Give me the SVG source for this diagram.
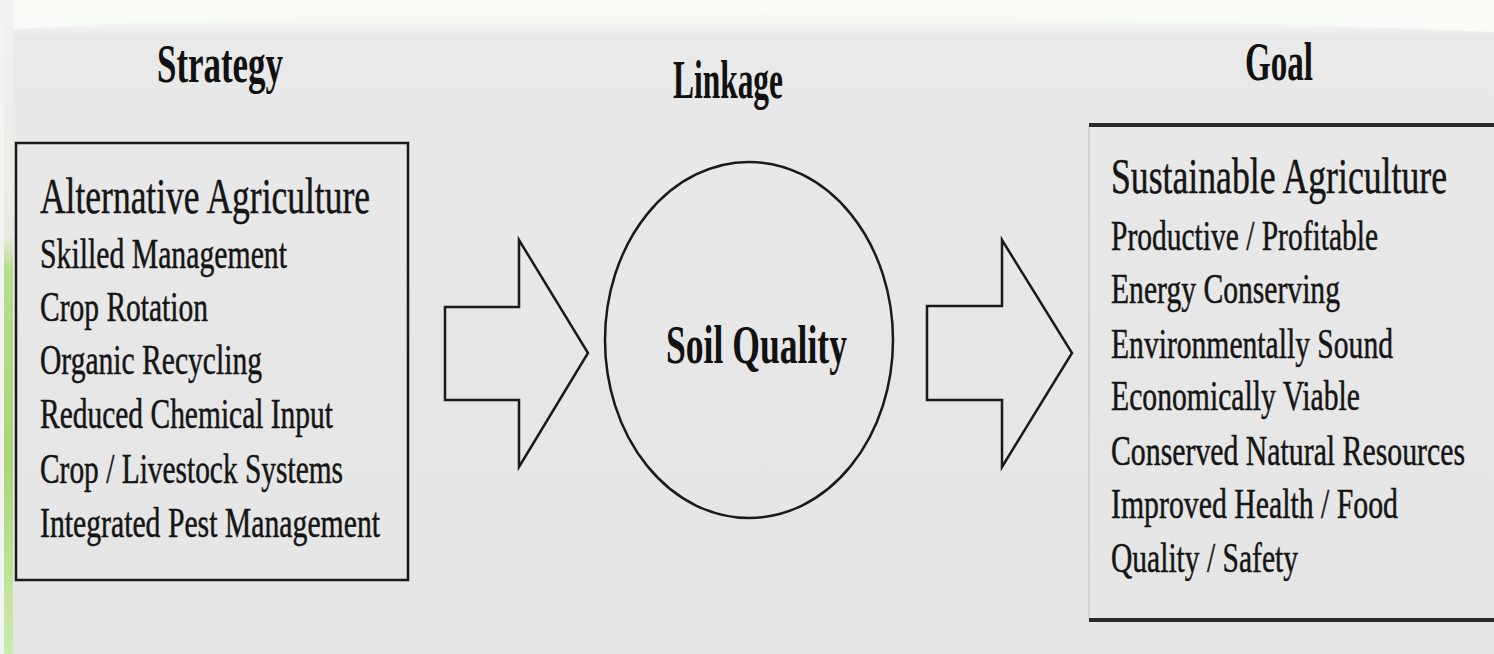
<svg xmlns="http://www.w3.org/2000/svg" width="1494" height="654" viewBox="0 0 1494 654">
  <defs>
    <linearGradient id="bg" x1="0" y1="0" x2="0" y2="1">
      <stop offset="0" stop-color="#fbfcfa"/>
      <stop offset="0.035" stop-color="#f6f8f3"/>
      <stop offset="0.055" stop-color="#e9e9e9"/>
      <stop offset="1" stop-color="#e5e5e5"/>
    </linearGradient>
    <linearGradient id="strip" x1="0" y1="0" x2="0" y2="1">
      <stop offset="0" stop-color="#f2f2f2"/>
      <stop offset="0.36" stop-color="#e8ebe4"/>
      <stop offset="0.41" stop-color="#b8de8c"/>
      <stop offset="0.7" stop-color="#a9d676"/>
      <stop offset="1" stop-color="#cdeab0"/>
    </linearGradient>
    <style>
      .title { font-family: "Liberation Serif", "Times New Roman", serif; font-weight: bold; font-size: 54px; fill: #111; }
      .head { font-family: "Liberation Serif", "Times New Roman", serif; font-size: 50px; fill: #151515; stroke: #151515; stroke-width: 0.5; }
      .item { font-family: "Liberation Serif", "Times New Roman", serif; font-size: 42px; fill: #151515; stroke: #151515; stroke-width: 0.5; }
      .shape { fill: none; stroke: #1a1a1a; stroke-width: 2.5; stroke-linejoin: miter; }
      .rule { stroke: #2a2a2a; stroke-width: 4; }
    </style>
  </defs>

  <rect x="0" y="0" width="1494" height="654" fill="url(#bg)"/>
  <path d="M0,30 Q360,8 760,12 Q1100,16 1494,32 L1494,0 L0,0 Z" fill="#f9fbf6"/>
  <rect x="0" y="0" width="4" height="654" fill="#f3f3f3"/>
  <rect x="4" y="0" width="9" height="654" fill="url(#strip)"/>

  <g id="title-strategy">
    <text class="title" x="157" y="82" textLength="126" lengthAdjust="spacingAndGlyphs">Strategy</text>
  </g>
  <g id="title-linkage">
    <text class="title" x="673" y="98" textLength="110" lengthAdjust="spacingAndGlyphs">Linkage</text>
  </g>
  <g id="title-goal">
    <text class="title" x="1245" y="80" textLength="68" lengthAdjust="spacingAndGlyphs">Goal</text>
  </g>

  <g id="node-strategy">
    <rect class="shape" x="16" y="143" width="392" height="437" stroke-width="3"/>
    <text class="head" x="40" y="213" textLength="330" lengthAdjust="spacingAndGlyphs">Alternative Agriculture</text>
    <text class="item" x="40" y="268" textLength="247" lengthAdjust="spacingAndGlyphs">Skilled Management</text>
    <text class="item" x="40" y="321" textLength="168" lengthAdjust="spacingAndGlyphs">Crop Rotation</text>
    <text class="item" x="40" y="374" textLength="222" lengthAdjust="spacingAndGlyphs">Organic Recycling</text>
    <text class="item" x="40" y="428" textLength="293" lengthAdjust="spacingAndGlyphs">Reduced Chemical Input</text>
    <text class="item" x="40" y="483" textLength="303" lengthAdjust="spacingAndGlyphs">Crop / Livestock Systems</text>
    <text class="item" x="40" y="537" textLength="340" lengthAdjust="spacingAndGlyphs">Integrated Pest Management</text>
  </g>

  <g id="node-linkage">
    <ellipse class="shape" cx="749" cy="340" rx="144" ry="178" stroke-width="2.2"/>
    <text class="title" x="666" y="363" textLength="181" lengthAdjust="spacingAndGlyphs" font-size="52">Soil Quality</text>
  </g>

  <g id="node-goal">
    <line x1="1089" y1="126" x2="1089" y2="619" stroke="#c4c4c4" stroke-width="1.2"/>
    <line class="rule" x1="1089" y1="125" x2="1494" y2="125"/>
    <line class="rule" x1="1089" y1="620" x2="1494" y2="620"/>
    <text class="head" x="1111" y="193" textLength="336" lengthAdjust="spacingAndGlyphs" font-size="48">Sustainable Agriculture</text>
    <text class="item" x="1111" y="250" textLength="267" lengthAdjust="spacingAndGlyphs" font-size="40">Productive / Profitable</text>
    <text class="item" x="1111" y="303" textLength="229" lengthAdjust="spacingAndGlyphs" font-size="40">Energy Conserving</text>
    <text class="item" x="1111" y="358" textLength="282" lengthAdjust="spacingAndGlyphs" font-size="40">Environmentally Sound</text>
    <text class="item" x="1111" y="410" textLength="249" lengthAdjust="spacingAndGlyphs" font-size="40">Economically Viable</text>
    <text class="item" x="1111" y="465" textLength="354" lengthAdjust="spacingAndGlyphs" font-size="40">Conserved Natural Resources</text>
    <text class="item" x="1111" y="518" textLength="287" lengthAdjust="spacingAndGlyphs" font-size="40">Improved Health / Food</text>
    <text class="item" x="1111" y="572" textLength="187" lengthAdjust="spacingAndGlyphs" font-size="40">Quality / Safety</text>
  </g>

  <g id="connectors">
    <polygon class="shape" points="445,307 519,307 519,240 588,353 519,467 519,400 445,400"/>
    <polygon class="shape" points="927,306 1002,306 1002,240 1072,353 1002,467 1002,400 927,400"/>
  </g>
</svg>
